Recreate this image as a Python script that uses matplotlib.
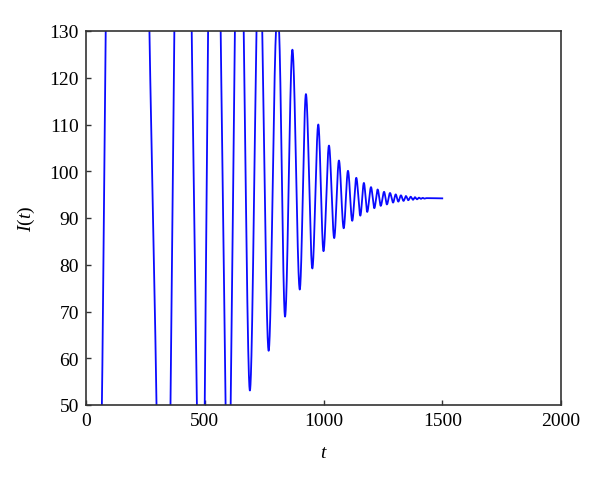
import numpy as np
import matplotlib
matplotlib.use("Agg")
import matplotlib.pyplot as plt

# Knots (t, I); values outside 50..130 are estimates of off-chart extremes
t_knots = [0, 67, 83, 175, 267, 297, 326, 356, 372, 408, 445, 467, 484, 500, 514, 540,
           567, 588, 598, 609, 627, 645, 664, 690, 718, 730, 742, 769, 800, 807, 813,
           838, 869, 900, 926, 953, 978, 1000, 1023, 1045, 1065, 1085, 1103, 1121, 1138,
           1155, 1170, 1184, 1200, 1214, 1228, 1241, 1255, 1267, 1280, 1293, 1304, 1315,
           1326, 1337, 1347, 1357, 1367, 1377, 1385, 1394, 1402, 1410, 1418, 1425, 1432, 1500]
I_knots = [-150, 50, 130, 450, 130, 50, -60, 50, 130, 300, 130, 50, -20, 50, 130, 250,
           130, 50, 10, 50, 130, 210, 130, 53.1, 130, 165, 130, 61.6, 130, 135, 130,
           68.9, 126.0, 74.7, 116.5, 79.2, 110.0, 82.9, 105.5, 85.7, 102.3, 87.8, 100.1, 89.4, 98.6,
           90.5, 97.5, 91.3, 96.6, 92.1, 96.1, 92.6, 95.6, 92.9, 95.35, 93.3, 95.05, 93.5,
           94.85, 93.65, 94.7, 93.8, 94.55, 93.9, 94.45, 94.0, 94.35, 94.1, 94.3, 94.15, 94.25, 94.2]

x_ticks = [0, 500, 1000, 1500, 2000]
y_ticks = [50, 60, 70, 80, 90, 100, 110, 120, 130]


def pchip(x, y, xn):
    x = np.asarray(x, float); y = np.asarray(y, float)
    h = np.diff(x); d = np.diff(y) / h
    n = len(x)
    m = np.zeros(n)
    for k in range(1, n - 1):
        if d[k - 1] * d[k] > 0:
            w1 = 2 * h[k] + h[k - 1]
            w2 = h[k] + 2 * h[k - 1]
            m[k] = (w1 + w2) / (w1 / d[k - 1] + w2 / d[k])
    m[0] = d[0]; m[-1] = d[-1]
    idx = np.clip(np.searchsorted(x, xn) - 1, 0, n - 2)
    hk = h[idx]
    s = (xn - x[idx]) / hk
    h00 = 2 * s**3 - 3 * s**2 + 1
    h10 = s**3 - 2 * s**2 + s
    h01 = -2 * s**3 + 3 * s**2
    h11 = s**3 - s**2
    return h00 * y[idx] + h10 * hk * m[idx] + h01 * y[idx + 1] + h11 * hk * m[idx + 1]


plt.rcParams['font.family'] = ['Liberation Serif', 'DejaVu Serif']
plt.rcParams['mathtext.fontset'] = 'custom'
plt.rcParams['mathtext.it'] = 'Liberation Serif:italic'
plt.rcParams['mathtext.rm'] = 'Liberation Serif'

fig = plt.figure(figsize=(6.0, 4.85), dpi=100)
ax = fig.add_axes([86 / 600, 1 - 406 / 485, (561 - 86) / 600, (406 - 32) / 485])

tt = np.linspace(t_knots[0], t_knots[-1], 6000)
ax.plot(tt, pchip(t_knots, I_knots, tt), color='#0a0aff', lw=1.3)

ax.set_xlim(0, 2000)
ax.set_ylim(50, 130)
ax.set_xticks(x_ticks)
ax.set_yticks(y_ticks)
ax.tick_params(direction='in', length=3.5, width=1, colors='#333333', labelcolor='black',
               labelsize=14, pad=5, top=False, right=False)
for sp in ax.spines.values():
    sp.set_color('#333333')
    sp.set_linewidth(1.2)

ax.set_xlabel('$t$', fontsize=14, labelpad=11)
ax.set_ylabel('$I(t)$', fontsize=14, labelpad=9)

fig.savefig('out.png', dpi=100)
